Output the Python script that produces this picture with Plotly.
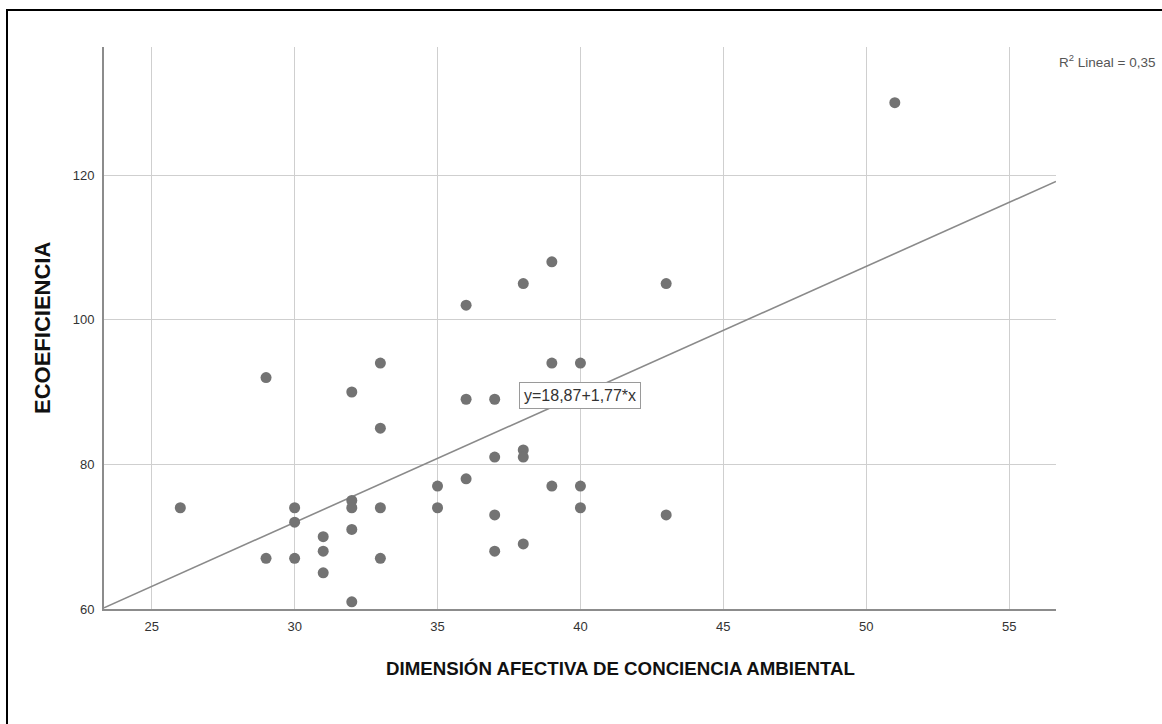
import plotly.graph_objects as go

# Data
afectiva = [26, 29, 29, 30, 30, 30, 31, 31, 31, 32, 32, 32, 32, 32,
            33, 33, 33, 33, 35, 35, 36, 36, 36, 37, 37, 37, 37,
            38, 38, 38, 38, 39, 39, 39, 40, 40, 40, 43, 43, 51]
ecoeficiencia = [74, 92, 67, 74, 72, 67, 70, 68, 65, 90, 75, 74, 71, 61,
                 94, 85, 74, 67, 77, 74, 102, 89, 78, 89, 81, 73, 68,
                 105, 82, 81, 69, 108, 94, 77, 94, 77, 74, 105, 73, 130]

intercept = 18.87
slope = 1.77
x_range = [23.33, 56.64]
y_range = [60, 137.7]
x_ticks = [25, 30, 35, 40, 45, 50, 55]
y_ticks = [60, 80, 100, 120]

fit_x = x_range
fit_y = [intercept + slope * v for v in fit_x]

FONT = "Liberation Sans, Arial, sans-serif"

fig = go.Figure()
fig.add_trace(go.Scatter(
    x=fit_x, y=fit_y, mode="lines",
    line=dict(color="#8a8a8a", width=1.6),
    hoverinfo="skip", showlegend=False, cliponaxis=True))
fig.add_trace(go.Scatter(
    x=afectiva, y=ecoeficiencia, mode="markers",
    marker=dict(color="#737373", size=11, line=dict(width=0)),
    showlegend=False))

W, H = 1162, 724
L, R, T, B = 104, 106, 47, 115
pw, ph = W - L - R, H - T - B

def px(xp):
    return (xp - L) / pw

def py(yp):
    return (H - B - yp) / ph

fig.update_layout(
    width=W, height=H,
    margin=dict(l=L, r=R, t=T, b=B, pad=0),
    paper_bgcolor="white", plot_bgcolor="white",
    font=dict(family=FONT, color="#333333", size=13),
    xaxis=dict(range=x_range, tickvals=x_ticks, showgrid=True,
               gridcolor="#cfcfcf", gridwidth=1.3, zeroline=False,
               showline=True, linecolor="#8c8c8c", linewidth=2,
               ticks="", ticklabelstandoff=4,
               tickfont=dict(size=13, color="#333333", family=FONT)),
    yaxis=dict(range=y_range, tickvals=y_ticks, showgrid=True,
               gridcolor="#cfcfcf", gridwidth=1.3, zeroline=False,
               showline=True, linecolor="#8c8c8c", linewidth=2,
               ticks="", ticklabelstandoff=5,
               tickfont=dict(size=13, color="#333333", family=FONT)),
    shapes=[dict(type="rect", xref="paper", yref="paper",
                 x0=px(7), x1=px(1200), y0=py(10), y1=py(760),
                 line=dict(color="black", width=2), fillcolor="rgba(0,0,0,0)",
                 layer="above")],
    annotations=[
        dict(x=40, y=89.5, xref="x", yref="y", showarrow=False,
             text="y=18,87+1,77*x", bgcolor="white",
             bordercolor="#9a9a9a", borderwidth=1, borderpad=4,
             font=dict(size=16, color="#333333", family=FONT)),
        dict(x=px(1057), y=py(61), xref="paper", yref="paper",
             xanchor="left", yanchor="middle", showarrow=False,
             text="R<sup>2</sup> Lineal = 0,35",
             font=dict(size=13.5, color="#555555", family=FONT)),
        dict(x=px(620), y=py(668), xref="paper", yref="paper",
             xanchor="center", yanchor="middle", showarrow=False,
             text="<b>DIMENSIÓN AFECTIVA DE CONCIENCIA AMBIENTAL</b>",
             font=dict(size=18.7, color="#111111", family=FONT)),
        dict(x=px(42), y=py(328), xref="paper", yref="paper",
             xanchor="center", yanchor="middle", showarrow=False,
             text="<b>ECOEFICIENCIA</b>", textangle=-90,
             font=dict(size=22, color="#111111", family=FONT)),
    ],
)

fig.write_html("out.html")
